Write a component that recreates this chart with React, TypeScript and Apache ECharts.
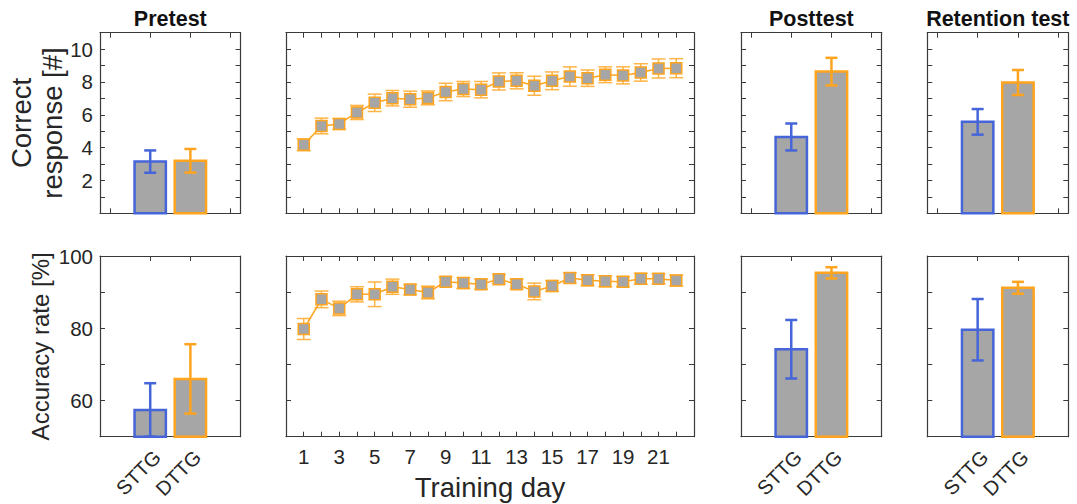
import React, { useEffect, useRef } from "react";
import * as echarts from "echarts";

// ---------- data ----------
const groups = ["STTG", "DTTG"];
const days = [1, 2, 3, 4, 5, 6, 7, 8, 9, 10, 11, 12, 13, 14, 15, 16, 17, 18, 19, 20, 21, 22];

const correctPre = [3.15, 3.2];
const correctPreErr = [0.68, 0.72];
const correctPost = [4.65, 8.63];
const correctPostErr = [0.82, 0.84];
const correctRet = [5.57, 7.97];
const correctRetErr = [0.78, 0.76];
const correctTrain = [4.17, 5.32, 5.44, 6.14, 6.73, 7.01, 6.95, 7.03, 7.39, 7.57, 7.53, 8.03, 8.07, 7.77, 8.07, 8.33, 8.23, 8.44, 8.4, 8.58, 8.82, 8.84];
const correctTrainErr = [0.36, 0.48, 0.33, 0.43, 0.53, 0.47, 0.49, 0.42, 0.53, 0.46, 0.5, 0.52, 0.49, 0.58, 0.54, 0.59, 0.5, 0.48, 0.52, 0.53, 0.58, 0.58];

const accPre = [57.4, 66.0];
const accPreErr = [7.4, 9.6];
const accPost = [74.2, 95.35];
const accPostErr = [8.1, 1.55];
const accRet = [79.6, 91.2];
const accRetErr = [8.5, 1.65];
const accTrain = [79.8, 88.0, 85.5, 89.4, 89.4, 91.5, 90.7, 89.9, 92.9, 92.5, 92.2, 93.6, 92.2, 90.2, 91.7, 93.9, 93.3, 93.0, 92.9, 93.7, 93.7, 93.2];
const accTrainErr = [2.9, 2.3, 2.0, 2.1, 3.4, 2.1, 1.4, 1.75, 1.3, 1.5, 1.4, 1.25, 1.4, 2.3, 1.5, 1.4, 1.5, 1.5, 1.4, 1.5, 1.4, 1.5];

const panelTitles = ["Pretest", "Posttest", "Retention test"];
const topYLabel = "Correct\nresponse [#]";
const bottomYLabel = "Accuracy rate [%]";
const xTitle = "Training day";

// ---------- style ----------
const FONT = '"Liberation Sans", Arial, Helvetica, sans-serif';
const BLUE = "#4565d8";
const ORANGE = "#ffa41f";
const ORANGE_ERR = "#ffb447";
const GRAY = "#a6a6a6";
const AX = "#3a3a3a";
const TXT = "#262626";

const rows = [
  { t: 32.7, h: 180.6, min: 0, max: 11, step: 1 },
  { t: 256, h: 180.7, min: 50, max: 100, step: 10 },
];
const cols = [
  { l: 100, w: 140.6 },
  { l: 286, w: 408 },
  { l: 741, w: 140.7 },
  { l: 927.3, w: 141 },
];

function barRender(base: number) {
  return (params: any, api: any) => {
    const x = api.value(0);
    const m = api.value(1);
    const e = api.value(2);
    const color = api.value(3) === 0 ? BLUE : ORANGE;
    const c = api.coord([x, m]);
    const b = api.coord([x, base]);
    const hi = api.coord([x, m + e]);
    const lo = api.coord([x, Math.max(base, m - e)]);
    const w = api.size([0.78, 0])[0];
    const cap = 6;
    const lw = 2.5;
    return {
      type: "group",
      children: [
        {
          type: "rect",
          shape: { x: c[0] - w / 2, y: c[1], width: w, height: b[1] - c[1] },
          style: { fill: GRAY, stroke: color, lineWidth: lw },
        },
        { type: "line", shape: { x1: c[0], y1: hi[1], x2: c[0], y2: lo[1] }, style: { stroke: color, lineWidth: lw } },
        { type: "line", shape: { x1: c[0] - cap, y1: hi[1], x2: c[0] + cap, y2: hi[1] }, style: { stroke: color, lineWidth: lw } },
        { type: "line", shape: { x1: c[0] - cap, y1: lo[1], x2: c[0] + cap, y2: lo[1] }, style: { stroke: color, lineWidth: lw } },
      ],
    };
  };
}

function errRender(params: any, api: any) {
  const x = api.value(0);
  const m = api.value(1);
  const e = api.value(2);
  const hi = api.coord([x, m + e]);
  const lo = api.coord([x, m - e]);
  const cap = 7;
  const st = { stroke: ORANGE_ERR, lineWidth: 1.5 };
  return {
    type: "group",
    children: [
      { type: "line", shape: { x1: hi[0], y1: hi[1], x2: lo[0], y2: lo[1] }, style: st },
      { type: "line", shape: { x1: hi[0] - cap, y1: hi[1], x2: hi[0] + cap, y2: hi[1] }, style: st },
      { type: "line", shape: { x1: lo[0] - cap, y1: lo[1], x2: lo[0] + cap, y2: lo[1] }, style: st },
    ],
  };
}

function buildOption() {
  const grids: any[] = [];
  const xAxis: any[] = [];
  const yAxis: any[] = [];
  const series: any[] = [];

  const barData = [
    [correctPre, correctPreErr, correctPost, correctPostErr, correctRet, correctRetErr],
    [accPre, accPreErr, accPost, accPostErr, accRet, accRetErr],
  ];
  const trainData = [
    [correctTrain, correctTrainErr],
    [accTrain, accTrainErr],
  ];

  rows.forEach((r, ri) => {
    cols.forEach((c, ci) => {
      const gi = grids.length;
      grids.push({ left: c.l, top: r.t, width: c.w, height: r.h, outerBoundsMode: "none" });
      const isLine = ci === 1;
      const isBottom = ri === 1;
      const tickBase = { show: true, inside: true, length: 5, lineStyle: { color: AX, width: 1 } };
      const lineBase = { show: true, onZero: false, lineStyle: { color: AX, width: 1.2 } };
      if (isLine) {
        const xa = {
          type: "value",
          gridIndex: gi,
          min: 0,
          max: 23,
          interval: 1,
          splitLine: { show: false },
          axisLine: lineBase,
          axisTick: tickBase,
        };
        xAxis.push({
          ...xa,
          position: "bottom",
          axisLabel: {
            show: isBottom,
            fontFamily: FONT,
            fontSize: 20.5,
            color: TXT,
            margin: 9,
            showMinLabel: false,
            showMaxLabel: false,
            formatter: (v: number) => (v % 2 === 1 && v <= 21 ? String(v) : ""),
          },
        });
        xAxis.push({ ...xa, position: "top", axisLabel: { show: false } });
      } else {
        const tv = isBottom ? [1, 2] : [0, 1, 2, 3];
        const xa = {
          type: "value",
          gridIndex: gi,
          min: -0.25,
          max: 3.25,
          splitLine: { show: false },
          axisLine: lineBase,
          axisTick: { ...tickBase, customValues: tv },
        };
        xAxis.push({
          ...xa,
          position: "bottom",
          axisLabel: {
            show: isBottom,
            customValues: [1, 2],
            rotate: 45,
            align: "right",
            verticalAlign: "top",
            fontFamily: FONT,
            fontSize: 20,
            color: TXT,
            margin: 10,
            formatter: (v: number) => groups[Math.round(v) - 1] || "",
          },
        });
        xAxis.push({ ...xa, position: "top", axisLabel: { show: false } });
      }
      const ya = {
        type: "value",
        gridIndex: gi,
        min: r.min,
        max: r.max,
        interval: r.step,
        splitLine: { show: false },
        axisLine: lineBase,
        axisTick: tickBase,
      };
      yAxis.push({
        ...ya,
        position: "left",
        axisLabel: {
          show: ci === 0,
          fontFamily: FONT,
          fontSize: 20.5,
          color: TXT,
          margin: 7,
          showMinLabel: false,
          formatter: (v: number) => {
            if (ri === 0) return v % 2 === 0 && v >= 2 && v <= 10 ? String(v) : "";
            return v === 60 || v === 80 || v === 100 ? String(v) : "";
          },
        },
      });
      yAxis.push({ ...ya, position: "right", axisLabel: { show: false } });

      const xi = 2 * gi;
      const yi = 2 * gi;
      if (isLine) {
        const [vals, errs] = trainData[ri];
        series.push({
          type: "custom",
          xAxisIndex: xi,
          yAxisIndex: yi,
          renderItem: errRender,
          z: 2,
          data: days.map((d, i) => [d, vals[i], errs[i]]),
        });
        series.push({
          type: "line",
          xAxisIndex: xi,
          yAxisIndex: yi,
          z: 3,
          symbol: "rect",
          symbolSize: 11,
          lineStyle: { color: ORANGE, width: 1.5 },
          itemStyle: { color: GRAY, borderColor: ORANGE, borderWidth: 1.5 },
          data: days.map((d, i) => [d, vals[i]]),
        });
      } else {
        const k = ci === 0 ? 0 : ci === 2 ? 1 : 2;
        const vals = barData[ri][2 * k];
        const errs = barData[ri][2 * k + 1];
        series.push({
          type: "custom",
          xAxisIndex: xi,
          yAxisIndex: yi,
          renderItem: barRender(r.min),
          z: 2,
          data: groups.map((g, i) => [i + 1, vals[i], errs[i], i]),
        });
      }
    });
  });

  const titleCenters = [cols[0].l + cols[0].w / 2, cols[2].l + cols[2].w / 2, cols[3].l + cols[3].w / 2];
  const graphic: any[] = [];
  panelTitles.forEach((t, i) => {
    graphic.push({
      type: "text",
      x: titleCenters[i],
      y: 19,
      style: { text: t, font: `bold 21.5px ${FONT}`, fill: "#111", textAlign: "center", textVerticalAlign: "middle" },
    });
  });
  graphic.push({
    type: "text",
    x: 37,
    y: rows[0].t + rows[0].h / 2,
    rotation: Math.PI / 2,
    style: {
      text: topYLabel,
      font: `27.5px ${FONT}`,
      lineHeight: 31,
      fill: TXT,
      textAlign: "center",
      textVerticalAlign: "middle",
    },
  });
  graphic.push({
    type: "text",
    x: 40,
    y: rows[1].t + rows[1].h / 2,
    rotation: Math.PI / 2,
    style: { text: bottomYLabel, font: `24px ${FONT}`, fill: TXT, textAlign: "center", textVerticalAlign: "middle" },
  });
  graphic.push({
    type: "text",
    x: cols[1].l + cols[1].w / 2,
    y: 487,
    style: { text: xTitle, font: `27.5px ${FONT}`, fill: TXT, textAlign: "center", textVerticalAlign: "middle" },
  });

  return { animation: false, backgroundColor: "#fff", grid: grids, xAxis, yAxis, series, graphic };
}

export default function App() {
  const ref = useRef<HTMLDivElement>(null);
  useEffect(() => {
    if (!ref.current) return;
    const chart = echarts.init(ref.current, null, { renderer: "svg" });
    chart.setOption(buildOption() as any);
    return () => chart.dispose();
  }, []);
  return (
    <div
      ref={ref}
      style={{ position: "absolute", left: 0, top: 0, width: 1077, height: 504, background: "#fff" }}
    />
  );
}
